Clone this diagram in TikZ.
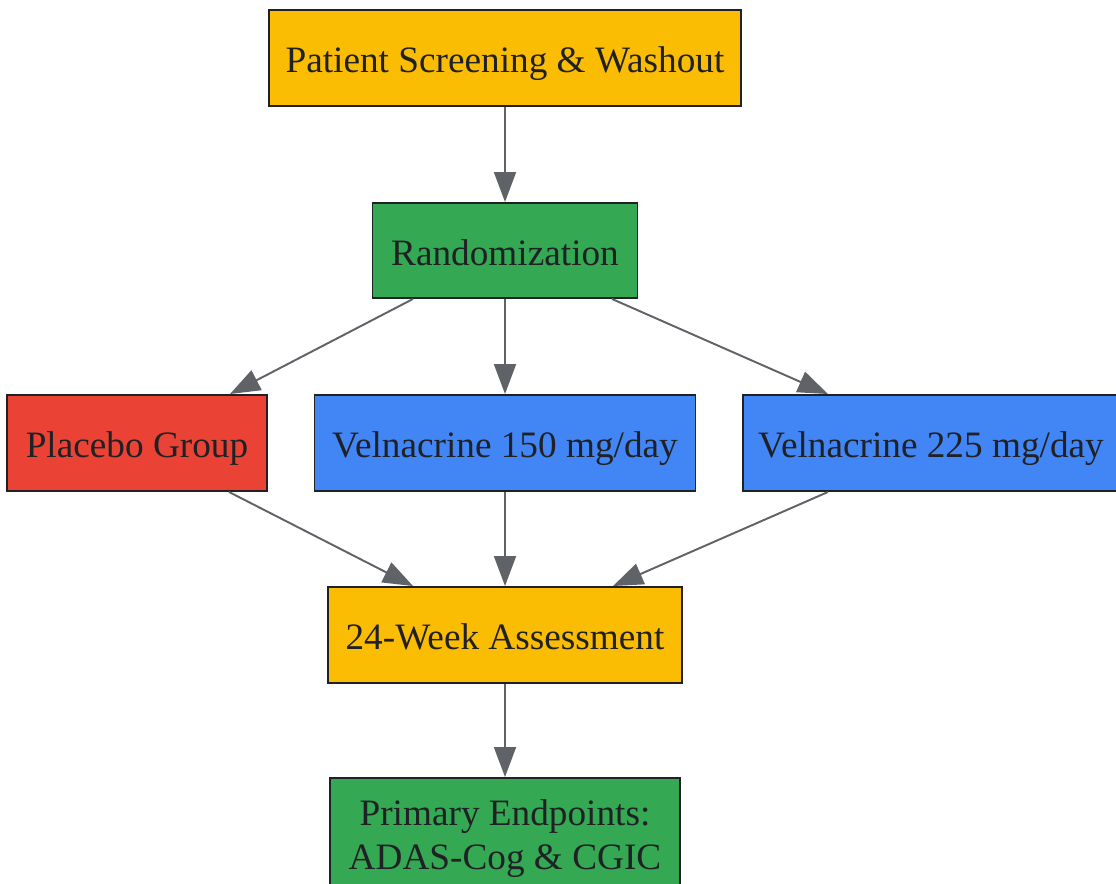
\documentclass[tikz,border=0pt]{standalone}
\usepackage{fontspec}
\setmainfont{Liberation Serif}
\usetikzlibrary{arrows.meta}
\definecolor{stepyellow}{HTML}{FBBC04}
\definecolor{stepgreen}{HTML}{34A853}
\definecolor{stepred}{HTML}{EA4335}
\definecolor{stepblue}{HTML}{4285F4}
\definecolor{edgegray}{HTML}{5F6368}
\definecolor{textdark}{HTML}{202124}
\tikzset{
  box/.style={draw=textdark, line width=1.1pt, minimum height=1.92cm, align=center,
    text=textdark, font=\fontsize{21.2}{25}\selectfont, inner sep=0pt},
  oneline/.style={text height=17pt, text depth=0pt},
  flow/.style={draw=edgegray, line width=1.1pt, -{Triangle[length=0.6cm, width=0.44cm]}}
}
\begin{document}
\begin{tikzpicture}
			\useasboundingbox (0,0) rectangle (22.32,-17.68);
			\clip (0,0) rectangle (22.32,-17.68);

			% Screening and randomization
			\node[box, oneline, fill=stepyellow, minimum width=9.44cm] (screen) at (10.10,-1.16) {Patient Screening \& Washout};
			\node[box, oneline, fill=stepgreen, minimum width=5.30cm, minimum height=1.90cm] (rand) at (10.10,-5.01) {Randomization};

			% Treatment arms
			\node[box, oneline, fill=stepred, minimum width=5.20cm] (placebo) at (2.74,-8.86) {Placebo Group};
			\node[box, oneline, fill=stepblue, minimum width=7.62cm] (vel150) at (10.10,-8.86) {Velnacrine 150 mg/day};
			\node[box, oneline, fill=stepblue, minimum width=7.52cm] (vel225) at (18.62,-8.86) {Velnacrine 225 mg/day};

			% Assessment and endpoints
			\node[box, oneline, fill=stepyellow, minimum width=7.08cm] (assess) at (10.10,-12.70) {24-Week Assessment};
			\node[box, fill=stepgreen, minimum width=7.00cm, minimum height=2.42cm] (endpts) at (10.10,-16.77) {Primary Endpoints:\\ADAS-Cog \& CGIC};

			% Draw flow
			\draw[flow] (screen) -- (rand);
			\draw[flow] ([xshift=-1.84cm]rand.south) -- ([xshift=1.86cm]placebo.north);
			\draw[flow] (rand) -- (vel150);
			\draw[flow] ([xshift=2.14cm]rand.south) -- ([xshift=-2.06cm]vel225.north);
			\draw[flow] ([xshift=1.84cm]placebo.south) -- ([xshift=-1.84cm]assess.north);
			\draw[flow] (vel150) -- (assess);
			\draw[flow] ([xshift=-2.06cm]vel225.south) -- ([xshift=2.16cm]assess.north);
			\draw[flow] (assess) -- (endpts);
		\end{tikzpicture}
\end{document}
